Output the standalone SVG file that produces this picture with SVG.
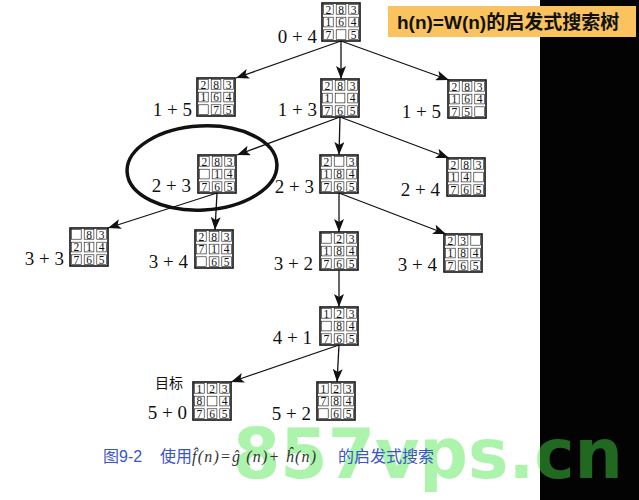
<svg xmlns="http://www.w3.org/2000/svg" xmlns:xlink="http://www.w3.org/1999/xlink" width="639" height="500" viewBox="0 0 639 500">
<style>
.cell{font-family:"Liberation Serif",serif;font-size:11.5px;text-anchor:middle;fill:#111}
.lbl{font-family:"Liberation Serif",serif;font-size:19px;text-anchor:end;fill:#111}
.edge{stroke:#111;stroke-width:1.3;fill:none;marker-end:url(#ah)}
.cap{font-family:"Liberation Sans","Noto Sans CJK SC",sans-serif;font-size:16px;fill:#3a55c8}
</style>
<defs>
<marker id="ah" markerUnits="userSpaceOnUse" markerWidth="14" markerHeight="10" refX="13" refY="5" orient="auto">
<path d="M0,0 L13,5 L0,10 L3,5 z" fill="#111"/>
</marker>
<g id="grid" fill="none" stroke="#111">
<rect x="0" y="0" width="38" height="38" stroke-width="1.6"/>
<rect x="1.5" y="1.5" width="9.7" height="9.7" stroke-width="0.6"/>
<rect x="14.2" y="1.5" width="9.7" height="9.7" stroke-width="0.6"/>
<rect x="26.8" y="1.5" width="9.7" height="9.7" stroke-width="0.6"/>
<rect x="1.5" y="14.2" width="9.7" height="9.7" stroke-width="0.6"/>
<rect x="14.2" y="14.2" width="9.7" height="9.7" stroke-width="0.6"/>
<rect x="26.8" y="14.2" width="9.7" height="9.7" stroke-width="0.6"/>
<rect x="1.5" y="26.8" width="9.7" height="9.7" stroke-width="0.6"/>
<rect x="14.2" y="26.8" width="9.7" height="9.7" stroke-width="0.6"/>
<rect x="26.8" y="26.8" width="9.7" height="9.7" stroke-width="0.6"/>
</g>
</defs>
<rect x="0" y="0" width="639" height="500" fill="#ffffff"/>
<rect x="540" y="0" width="99" height="500" fill="#030303"/>
<rect x="388" y="6" width="248" height="31" fill="#fac35f"/>
<text x="397" y="29" font-family="Liberation Sans,'Noto Sans CJK SC',sans-serif" font-size="19" font-weight="bold" fill="#111">h(n)=W(n)的启发式搜索树</text>

<text x="233" y="478" font-family="'DejaVu Sans',sans-serif" font-weight="bold" font-size="70" textLength="390" lengthAdjust="spacingAndGlyphs" fill="#46e646" fill-opacity="0.45">857vps.cn</text>

<g id="connectors">
<line class="edge" x1="341" y1="41" x2="236" y2="78"/>
<line class="edge" x1="341" y1="41" x2="341" y2="79"/>
<line class="edge" x1="341" y1="41" x2="449" y2="80"/>
<line class="edge" x1="340" y1="117" x2="237" y2="155"/>
<line class="edge" x1="340" y1="117" x2="339" y2="155"/>
<line class="edge" x1="340" y1="117" x2="449" y2="158"/>
<line class="edge" x1="217" y1="193" x2="108" y2="228"/>
<line class="edge" x1="217" y1="193" x2="215" y2="230"/>
<line class="edge" x1="339" y1="193" x2="339" y2="232"/>
<line class="edge" x1="339" y1="193" x2="446" y2="234"/>
<line class="edge" x1="339" y1="270" x2="339" y2="307"/>
<line class="edge" x1="339" y1="345" x2="231" y2="382"/>
<line class="edge" x1="339" y1="345" x2="337" y2="382"/>
</g>

<ellipse cx="202" cy="168" rx="75" ry="42" transform="rotate(-3 202 168)" fill="none" stroke="#111" stroke-width="3.5"/>

<g id="n1" transform="translate(322,3)"><use xlink:href="#grid"/>
<text class="cell" x="6.3" y="10.5">2</text><text class="cell" x="19" y="10.5">8</text><text class="cell" x="31.7" y="10.5">3</text>
<text class="cell" x="6.3" y="23.2">1</text><text class="cell" x="19" y="23.2">6</text><text class="cell" x="31.7" y="23.2">4</text>
<text class="cell" x="6.3" y="35.9">7</text><text class="cell" x="31.7" y="35.9">5</text></g>
<text class="lbl" x="317" y="43">0 + 4</text>

<g id="n2" transform="translate(197,78)"><use xlink:href="#grid"/>
<text class="cell" x="6.3" y="10.5">2</text><text class="cell" x="19" y="10.5">8</text><text class="cell" x="31.7" y="10.5">3</text>
<text class="cell" x="6.3" y="23.2">1</text><text class="cell" x="19" y="23.2">6</text><text class="cell" x="31.7" y="23.2">4</text>
<text class="cell" x="19" y="35.9">7</text><text class="cell" x="31.7" y="35.9">5</text></g>
<text class="lbl" x="192" y="116">1 + 5</text>

<g id="n3" transform="translate(321,79)"><use xlink:href="#grid"/>
<text class="cell" x="6.3" y="10.5">2</text><text class="cell" x="19" y="10.5">8</text><text class="cell" x="31.7" y="10.5">3</text>
<text class="cell" x="6.3" y="23.2">1</text><text class="cell" x="31.7" y="23.2">4</text>
<text class="cell" x="6.3" y="35.9">7</text><text class="cell" x="19" y="35.9">6</text><text class="cell" x="31.7" y="35.9">5</text></g>
<text class="lbl" x="317" y="116">1 + 3</text>

<g id="n4" transform="translate(448,80)"><use xlink:href="#grid"/>
<text class="cell" x="6.3" y="10.5">2</text><text class="cell" x="19" y="10.5">8</text><text class="cell" x="31.7" y="10.5">3</text>
<text class="cell" x="6.3" y="23.2">1</text><text class="cell" x="19" y="23.2">6</text><text class="cell" x="31.7" y="23.2">4</text>
<text class="cell" x="6.3" y="35.9">7</text><text class="cell" x="19" y="35.9">5</text></g>
<text class="lbl" x="441" y="118">1 + 5</text>

<g id="n5" transform="translate(198,155)"><use xlink:href="#grid"/>
<text class="cell" x="6.3" y="10.5">2</text><text class="cell" x="19" y="10.5">8</text><text class="cell" x="31.7" y="10.5">3</text>
<text class="cell" x="19" y="23.2">1</text><text class="cell" x="31.7" y="23.2">4</text>
<text class="cell" x="6.3" y="35.9">7</text><text class="cell" x="19" y="35.9">6</text><text class="cell" x="31.7" y="35.9">5</text></g>
<text class="lbl" x="191" y="192">2 + 3</text>

<g id="n6" transform="translate(320,155)"><use xlink:href="#grid"/>
<text class="cell" x="6.3" y="10.5">2</text><text class="cell" x="31.7" y="10.5">3</text>
<text class="cell" x="6.3" y="23.2">1</text><text class="cell" x="19" y="23.2">8</text><text class="cell" x="31.7" y="23.2">4</text>
<text class="cell" x="6.3" y="35.9">7</text><text class="cell" x="19" y="35.9">6</text><text class="cell" x="31.7" y="35.9">5</text></g>
<text class="lbl" x="314" y="193">2 + 3</text>

<g id="n7" transform="translate(447,158)"><use xlink:href="#grid"/>
<text class="cell" x="6.3" y="10.5">2</text><text class="cell" x="19" y="10.5">8</text><text class="cell" x="31.7" y="10.5">3</text>
<text class="cell" x="6.3" y="23.2">1</text><text class="cell" x="19" y="23.2">4</text>
<text class="cell" x="6.3" y="35.9">7</text><text class="cell" x="19" y="35.9">6</text><text class="cell" x="31.7" y="35.9">5</text></g>
<text class="lbl" x="440" y="196">2 + 4</text>

<g id="n8" transform="translate(70,228)"><use xlink:href="#grid"/>
<text class="cell" x="19" y="10.5">8</text><text class="cell" x="31.7" y="10.5">3</text>
<text class="cell" x="6.3" y="23.2">2</text><text class="cell" x="19" y="23.2">1</text><text class="cell" x="31.7" y="23.2">4</text>
<text class="cell" x="6.3" y="35.9">7</text><text class="cell" x="19" y="35.9">6</text><text class="cell" x="31.7" y="35.9">5</text></g>
<text class="lbl" x="64" y="265">3 + 3</text>

<g id="n9" transform="translate(195,230)"><use xlink:href="#grid"/>
<text class="cell" x="6.3" y="10.5">2</text><text class="cell" x="19" y="10.5">8</text><text class="cell" x="31.7" y="10.5">3</text>
<text class="cell" x="6.3" y="23.2">7</text><text class="cell" x="19" y="23.2">1</text><text class="cell" x="31.7" y="23.2">4</text>
<text class="cell" x="19" y="35.9">6</text><text class="cell" x="31.7" y="35.9">5</text></g>
<text class="lbl" x="188" y="268">3 + 4</text>

<g id="n10" transform="translate(320,232)"><use xlink:href="#grid"/>
<text class="cell" x="19" y="10.5">2</text><text class="cell" x="31.7" y="10.5">3</text>
<text class="cell" x="6.3" y="23.2">1</text><text class="cell" x="19" y="23.2">8</text><text class="cell" x="31.7" y="23.2">4</text>
<text class="cell" x="6.3" y="35.9">7</text><text class="cell" x="19" y="35.9">6</text><text class="cell" x="31.7" y="35.9">5</text></g>
<text class="lbl" x="313" y="270">3 + 2</text>

<g id="n11" transform="translate(444,234)"><use xlink:href="#grid"/>
<text class="cell" x="6.3" y="10.5">2</text><text class="cell" x="19" y="10.5">3</text>
<text class="cell" x="6.3" y="23.2">1</text><text class="cell" x="19" y="23.2">8</text><text class="cell" x="31.7" y="23.2">4</text>
<text class="cell" x="6.3" y="35.9">7</text><text class="cell" x="19" y="35.9">6</text><text class="cell" x="31.7" y="35.9">5</text></g>
<text class="lbl" x="437" y="271">3 + 4</text>

<g id="n12" transform="translate(320,307)"><use xlink:href="#grid"/>
<text class="cell" x="6.3" y="10.5">1</text><text class="cell" x="19" y="10.5">2</text><text class="cell" x="31.7" y="10.5">3</text>
<text class="cell" x="19" y="23.2">8</text><text class="cell" x="31.7" y="23.2">4</text>
<text class="cell" x="6.3" y="35.9">7</text><text class="cell" x="19" y="35.9">6</text><text class="cell" x="31.7" y="35.9">5</text></g>
<text class="lbl" x="312" y="344">4 + 1</text>

<g id="n13" transform="translate(193,382)"><use xlink:href="#grid"/>
<text class="cell" x="6.3" y="10.5">1</text><text class="cell" x="19" y="10.5">2</text><text class="cell" x="31.7" y="10.5">3</text>
<text class="cell" x="6.3" y="23.2">8</text><text class="cell" x="31.7" y="23.2">4</text>
<text class="cell" x="6.3" y="35.9">7</text><text class="cell" x="19" y="35.9">6</text><text class="cell" x="31.7" y="35.9">5</text></g>
<text x="155" y="388" font-family="'Noto Sans CJK SC',sans-serif" font-size="14" fill="#111">目标</text>
<text class="lbl" x="187" y="419">5 + 0</text>

<g id="n14" transform="translate(317,382)"><use xlink:href="#grid"/>
<text class="cell" x="6.3" y="10.5">1</text><text class="cell" x="19" y="10.5">2</text><text class="cell" x="31.7" y="10.5">3</text>
<text class="cell" x="6.3" y="23.2">7</text><text class="cell" x="19" y="23.2">8</text><text class="cell" x="31.7" y="23.2">4</text>
<text class="cell" x="19" y="35.9">6</text><text class="cell" x="31.7" y="35.9">5</text></g>
<text class="lbl" x="311" y="420">5 + 2</text>

<g id="caption">
<text class="cap" x="103" y="462">图9-2</text>
<text class="cap" x="160" y="462">使用</text>
<text x="192" y="462" font-family="'Liberation Serif',serif" font-style="italic" font-size="16" textLength="124" lengthAdjust="spacing" fill="#333">f̂(n)=ĝ (n)+ ĥ(n)</text>
<text class="cap" x="338" y="462">的启发式搜索</text>
</g>
</svg>
